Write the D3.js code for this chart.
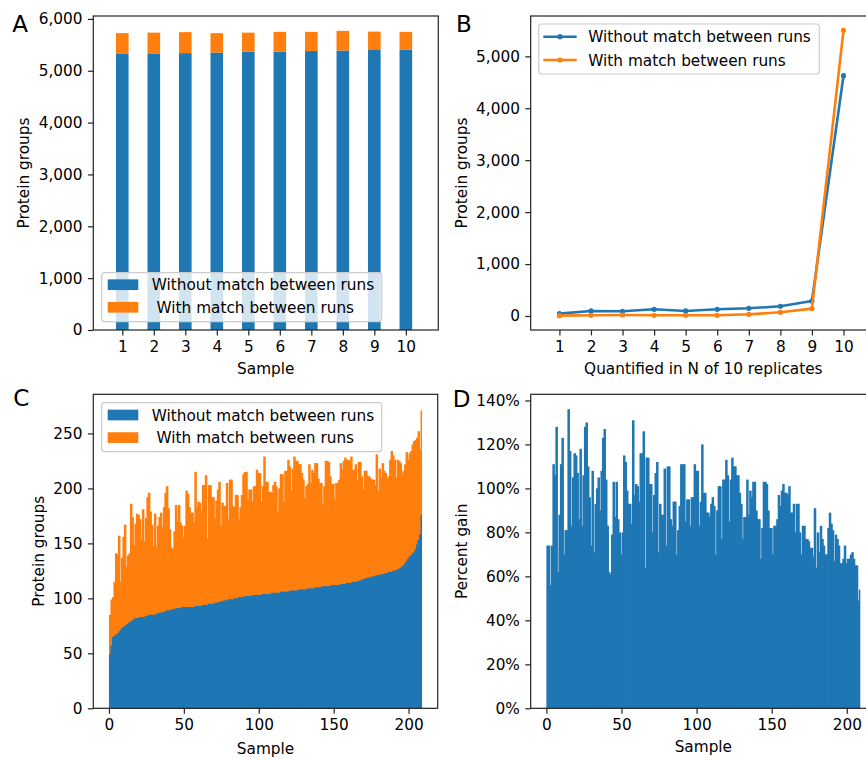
<!DOCTYPE html>
<html>
<head>
<meta charset="utf-8">
<script src="https://cdn.jsdelivr.net/npm/d3@7"></script>
<style>
  body { margin: 0; background: #fff; }
  svg text { font-family: "DejaVu Sans", sans-serif; fill: #000; }
</style>
</head>
<body>
<div id="figure"></div>
<script>
// ---- data -------------------------------------------------------------

// A: protein groups per sample
const aSamples = [1, 2, 3, 4, 5, 6, 7, 8, 9, 10];
const aWithout = [5325, 5335, 5340, 5350, 5365, 5370, 5380, 5390, 5400, 5405];
const aGained  = [400, 400, 405, 375, 370, 380, 370, 380, 355, 345];
const aYTicks  = [0, 1000, 2000, 3000, 4000, 5000, 6000];

// B: quantified in N of 10 replicates
const bReplicates = [1, 2, 3, 4, 5, 6, 7, 8, 9, 10];
const bWithout = [45, 97, 90, 129, 97, 129, 148, 187, 290, 4627];
const bWith    = [6, 13, 19, 13, 13, 13, 32, 71, 142, 5502];
const bYTicks  = [0, 1000, 2000, 3000, 4000, 5000];

// C: protein groups per single cell sample (sorted by "without")
const cWithout = [
  49, 57, 65, 66, 67, 68, 69, 71, 73, 74, 75, 76, 77, 78, 79, 80, 81, 82, 82,
  82, 83, 83, 83, 83, 84, 84,
  85, 85, 85, 85, 85, 86, 86, 87, 87, 87, 88, 88, 89, 89, 89, 90, 90, 90, 91, 91,
  91, 91, 92, 92, 92, 92, 92, 92, 92, 92, 92, 93, 93, 93, 93,
  93, 94, 94, 94, 94, 95, 95, 95, 95, 96,
  96, 96, 97, 97, 97, 98, 98, 98, 99, 99,
  99, 99, 100, 100, 100, 101, 101, 101, 101, 102,
  102, 102, 102, 102, 103, 103, 103, 103, 103, 103,
  103, 104, 104, 104, 104, 104, 104, 105, 105, 105,
  105, 105, 105, 106, 106, 106, 106, 106, 106, 107, 107, 107, 107, 107, 107,
  108, 108, 108, 108, 108, 108, 109, 109, 109, 109, 109, 110, 110, 110, 110,
  110, 111, 111, 111, 111, 111, 111, 112, 112, 112, 112, 112, 112, 113, 113,
  113, 113, 114, 114, 114, 114, 115, 115, 115, 115,
  116, 116, 117, 117, 118,
  118, 119, 119, 119, 120, 120, 120, 121, 121, 121,
  122, 122, 122, 123, 123, 124, 124, 124, 125, 125,
  126, 126, 127, 128, 129, 130, 132, 134, 136, 138, 139, 141, 142,
  145, 149, 153, 158, 176
];
const cWith = [
  85, 99, 101, 115, 141, 140, 157, 115, 137, 156,
  167, 129, 139, 141, 186, 174, 148, 168, 177, 176,
  172, 154, 181, 152, 173, 192, 196, 179, 167, 148,
  177, 147, 166, 174, 178, 165, 183, 196, 202, 182,
  163, 146, 145, 161, 185, 170, 185, 169, 166, 156,
  166, 198, 195, 183, 178, 178, 169, 215, 183, 188,
  187, 180, 203, 203, 212, 154, 203, 203, 192, 192,
  173, 189, 199, 206, 166, 187, 184, 184, 205, 172,
  208, 208, 184, 183, 194, 194, 172, 183, 194, 213,
  215, 215, 189, 199, 199, 188, 202, 202, 217, 214,
  214, 188, 202, 229, 206, 206, 197, 197, 196, 203,
  206, 202, 179, 200, 213, 213, 188, 216, 216, 226,
  220, 198, 218, 229, 225, 225, 222, 222, 214, 208,
  191, 202, 204, 222, 205, 217, 214, 223, 223, 209,
  205, 205, 186, 202, 225, 225, 224, 211, 204, 204,
  190, 205, 205, 208, 223, 217, 225, 228, 226, 226,
  225, 229, 217, 217, 222, 207, 224, 224, 211, 199,
  216, 216, 211, 211, 209, 208, 208, 203, 231, 198,
  218, 209, 223, 216, 214, 209, 211, 226, 234, 230,
  226, 210, 226, 225, 223, 214, 216, 222, 233, 226,
  232, 234, 240, 243, 244, 246, 252, 235, 271
];
const cYTicks = [0, 50, 100, 150, 200, 250];
const sampleTicks = [0, 50, 100, 150, 200];

// D: percent gain per sample
const dGain = [
  74, 74, 56, 74, 111, 106, 128, 62, 88, 111,
  123, 70, 81, 81, 136, 117, 83, 105, 116, 115,
  107, 86, 118, 83, 106, 128, 130, 110, 96, 74,
  108, 71, 93, 100, 105, 90, 108, 123, 127, 104,
  83, 62, 61, 79, 103, 87, 103, 86, 80, 70,
  80, 115, 112, 99, 93, 93, 84, 131, 97, 102,
  101, 94, 116, 116, 126, 64, 114, 114, 102, 102,
  80, 97, 107, 112, 71, 93, 88, 88, 109, 74,
  110, 110, 86, 83, 94, 94, 70, 81, 92, 111,
  111, 111, 85, 95, 95, 83, 96, 96, 111, 108,
  108, 83, 94, 120, 98, 98, 89, 89, 87, 93,
  96, 92, 70, 90, 101, 101, 77, 104, 104, 113,
  106, 85, 104, 114, 110, 110, 106, 106, 98, 93,
  77, 87, 87, 104, 88, 99, 96, 103, 103, 90,
  86, 86, 68, 82, 103, 103, 102, 90, 82, 82,
  70, 83, 83, 86, 97, 92, 99, 102, 98, 98,
  97, 101, 89, 89, 93, 80, 93, 93, 80, 70,
  83, 83, 77, 77, 76, 73, 73, 69, 91, 64,
  80, 71, 83, 77, 74, 70, 70, 82, 89, 84,
  81, 67, 79, 77, 74, 66, 66, 68, 74, 66,
  68, 68, 70, 71, 68, 65, 65, 49, 54
];
const dYTicks = [0, 20, 40, 60, 80, 100, 120, 140];

const barLabels  = ["Without match between runs", " With match between runs"];
const lineLabels = ["Without match between runs", "With match between runs"];

// ---- layout / style ---------------------------------------------------

const W = 866, H = 758;
const blue = "#1f77b4", orange = "#ff7f0e";
const fontSize = 15.3;
const tickLen = 5.4;
const seam = 1.0;   // overlap of the thin bars so no white seams show

const boxA = {left: 93.3, right: 438.3, top: 16, bottom: 330};
const boxB = {left: 530.7, right: 876, top: 16, bottom: 330};
const boxC = {left: 93.3, right: 437.7, top: 394.3, bottom: 708.3};
const boxD = {left: 530.7, right: 876, top: 394.3, bottom: 708.3};

let svg = d3.select("#figure")
    .append("svg")
    .attr("width", W)
    .attr("height", H);

function drawAxes(box, x, y, xTicks, yTicks, xFmt, yFmt) {
    let gx = svg.append("g")
        .attr("transform", "translate(0," + box.bottom + ")")
        .call(d3.axisBottom(x).tickValues(xTicks).tickFormat(xFmt)
            .tickSize(tickLen).tickPadding(tickLen));
    let gy = svg.append("g")
        .attr("transform", "translate(" + box.left + ",0)")
        .call(d3.axisLeft(y).tickValues(yTicks).tickFormat(yFmt)
            .tickSize(tickLen).tickPadding(tickLen));
    [gx, gy].forEach(function (g) {
        g.attr("font-size", fontSize).attr("font-family", "DejaVu Sans");
        g.select(".domain").remove();
        g.selectAll(".tick line").attr("stroke", "#222").attr("stroke-width", 1.2);
        g.selectAll(".tick text").attr("fill", "#000");
    });
}

function frame(box) {
    svg.append("rect")
        .attr("x", box.left).attr("y", box.top)
        .attr("width", box.right - box.left)
        .attr("height", box.bottom - box.top)
        .attr("fill", "none")
        .attr("stroke", "#222")
        .attr("stroke-width", 1.2);
}

function labels(letter, lx, ly, xText, xx, xy, yText, yx, yy) {
    svg.append("text").attr("x", lx).attr("y", ly)
        .style("font-size", "23px").text(letter);
    svg.append("text").attr("x", xx).attr("y", xy)
        .attr("text-anchor", "middle").style("font-size", fontSize + "px").text(xText);
    svg.append("text")
        .attr("transform", "translate(" + yx + "," + yy + ") rotate(-90)")
        .attr("text-anchor", "middle").style("font-size", fontSize + "px").text(yText);
}

function legend(lg, names, colors, kind) {
    let g = svg.append("g");
    g.append("rect")
        .attr("x", lg.x).attr("y", lg.y)
        .attr("width", lg.w).attr("height", lg.h)
        .attr("rx", 3)
        .attr("fill", "#fff").attr("fill-opacity", 0.8)
        .attr("stroke", "#cccccc").attr("stroke-width", 1.2);
    names.forEach(function (name, i) {
        let cy = lg.rows[i];
        if (kind === "patch") {
            g.append("rect")
                .attr("x", lg.x + 6).attr("y", cy - 5.35)
                .attr("width", 30.6).attr("height", 10.7)
                .attr("fill", colors[i]);
        } else {
            g.append("line")
                .attr("x1", lg.x + 4.6).attr("x2", lg.x + 38)
                .attr("y1", cy).attr("y2", cy)
                .attr("stroke", colors[i]).attr("stroke-width", 2.6);
            g.append("circle")
                .attr("cx", lg.x + 21.3).attr("cy", cy).attr("r", 2.6)
                .attr("fill", colors[i]);
        }
        g.append("text")
            .attr("x", lg.textX).attr("y", cy + 5.6)
            .style("font-size", fontSize + "px")
            .style("white-space", "pre")
            .text(name);
    });
}

const commaFmt = d3.format(",");

// ---- A: stacked bars --------------------------------------------------

let xA = d3.scaleLinear().domain([0.08, 11.03]).range([boxA.left, boxA.right]);
let yA = d3.scaleLinear().domain([0, 6056]).range([boxA.bottom, boxA.top]);

svg.append("g").selectAll("rect")
    .data(aSamples)
    .enter()
    .append("rect")
    .attr("x", function (d) { return xA(d - 0.2); })
    .attr("width", function (d) { return xA(d + 0.2) - xA(d - 0.2); })
    .attr("y", function (d, i) { return yA(aWithout[i]); })
    .attr("height", function (d, i) { return yA(0) - yA(aWithout[i]); })
    .attr("fill", blue);

svg.append("g").selectAll("rect")
    .data(aSamples)
    .enter()
    .append("rect")
    .attr("x", function (d) { return xA(d - 0.2); })
    .attr("width", function (d) { return xA(d + 0.2) - xA(d - 0.2); })
    .attr("y", function (d, i) { return yA(aWithout[i] + aGained[i]); })
    .attr("height", function (d, i) { return yA(aWithout[i]) - yA(aWithout[i] + aGained[i]); })
    .attr("fill", orange);

drawAxes(boxA, xA, yA, aSamples, aYTicks, d3.format("d"), commaFmt);
frame(boxA);
legend({x: 101.7, y: 272.7, w: 280, h: 49, rows: [284.7, 307.3], textX: 151.7},
    barLabels, [blue, orange], "patch");
labels("A", 12.3, 31.7, "Sample", (boxA.left + boxA.right) / 2, 373.5,
    "Protein groups", 29.3, (boxA.top + boxA.bottom) / 2);

// ---- B: lines ---------------------------------------------------------

let xB = d3.scaleLinear().domain([0.09, 11.03]).range([boxB.left, boxB.right]);
let yB = d3.scaleLinear().domain([-270, 5777]).range([boxB.bottom, boxB.top]);

[[bWithout, blue], [bWith, orange]].forEach(function (s) {
    let vals = s[0], col = s[1];
    let line = d3.line()
        .x(function (d, i) { return xB(bReplicates[i]); })
        .y(function (d) { return yB(d); });
    svg.append("path")
        .datum(vals)
        .attr("d", line)
        .attr("fill", "none")
        .attr("stroke", col)
        .attr("stroke-width", 2.6)
        .attr("stroke-linejoin", "round");
    svg.append("g").selectAll("circle")
        .data(vals)
        .enter()
        .append("circle")
        .attr("cx", function (d, i) { return xB(bReplicates[i]); })
        .attr("cy", function (d) { return yB(d); })
        .attr("r", 2.6)
        .attr("fill", col);
});

drawAxes(boxB, xB, yB, bReplicates, bYTicks, d3.format("d"), commaFmt);
frame(boxB);
legend({x: 538.7, y: 24, w: 280.6, h: 50, rows: [36.7, 60], textX: 588.3},
    lineLabels, [blue, orange], "line");
labels("B", 456, 31.7, "Quantified in N of 10 replicates", (boxB.left + boxB.right) / 2, 374,
    "Protein groups", 466.7, (boxB.top + boxB.bottom) / 2);

// ---- C: per-sample stacked bars ---------------------------------------

let xC = d3.scaleLinear().domain([-10.45, 219.45]).range([boxC.left, boxC.right]);
let yC = d3.scaleLinear().domain([0, 285.6]).range([boxC.bottom, boxC.top]);

svg.append("g").selectAll("rect")
    .data(cWith)
    .enter()
    .append("rect")
    .attr("x", function (d, i) { return xC(i); })
    .attr("width", function (d, i) { return xC(i + 1) - xC(i) + (i < cWith.length - 1 ? seam : 0); })
    .attr("y", function (d) { return yC(d); })
    .attr("height", function (d) { return yC(0) - yC(d); })
    .attr("fill", orange);

svg.append("g").selectAll("rect")
    .data(cWithout)
    .enter()
    .append("rect")
    .attr("x", function (d, i) { return xC(i); })
    .attr("width", function (d, i) { return xC(i + 1) - xC(i) + (i < cWithout.length - 1 ? seam : 0); })
    .attr("y", function (d) { return yC(d); })
    .attr("height", function (d) { return yC(0) - yC(d); })
    .attr("fill", blue);

drawAxes(boxC, xC, yC, sampleTicks, cYTicks, d3.format("d"), d3.format("d"));
frame(boxC);
legend({x: 101.7, y: 402.7, w: 280, h: 49, rows: [415, 437.6], textX: 151.7},
    barLabels, [blue, orange], "patch");
labels("C", 13.3, 406, "Sample", (boxC.left + boxC.right) / 2, 753.5,
    "Protein groups", 43.6, (boxC.top + boxC.bottom) / 2);

// ---- D: percent gain --------------------------------------------------

let xD = d3.scaleLinear().domain([-10.45, 219.45]).range([boxD.left, boxD.right]);
let yD = d3.scaleLinear().domain([0, 142.8]).range([boxD.bottom, boxD.top]);

svg.append("g").selectAll("rect")
    .data(dGain)
    .enter()
    .append("rect")
    .attr("x", function (d, i) { return xD(i); })
    .attr("width", function (d, i) { return xD(i + 1) - xD(i) + (i < dGain.length - 1 ? seam : 0); })
    .attr("y", function (d) { return yD(d); })
    .attr("height", function (d) { return yD(0) - yD(d); })
    .attr("fill", blue);

drawAxes(boxD, xD, yD, sampleTicks, dYTicks, d3.format("d"), function (d) { return d + "%"; });
frame(boxD);
labels("D", 452.7, 406.7, "Sample", (boxD.left + boxD.right) / 2, 751.5,
    "Percent gain", 466.7, (boxD.top + boxD.bottom) / 2);
</script>
</body>
</html>
